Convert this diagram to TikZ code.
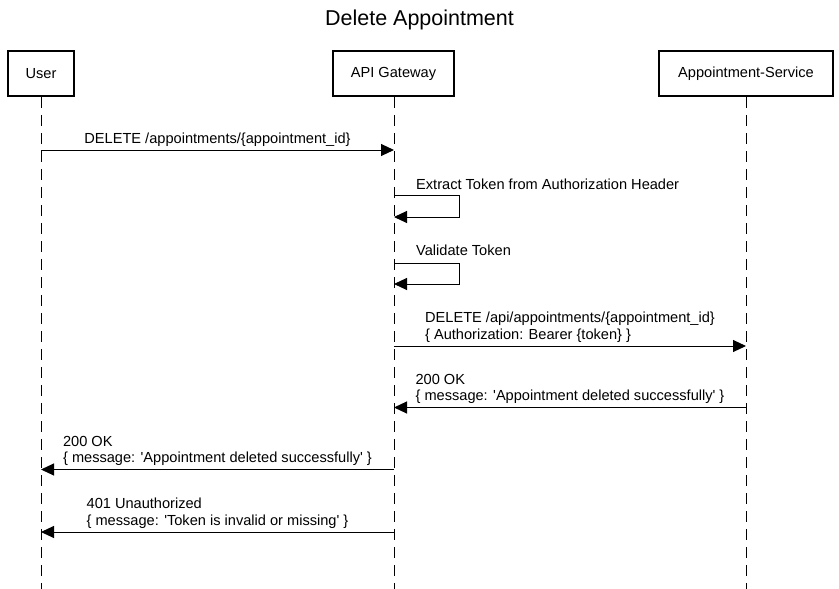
\documentclass[tikz,border=0pt]{standalone}
\usepackage{fontspec}
\setmainfont{Liberation Sans}
\usetikzlibrary{arrows.meta}
\newcommand{\sq}{\textquotesingle}
\begin{document}
\begin{tikzpicture}[x=1pt,y=-1pt,
  actor/.style={draw,line width=2pt,minimum height=45pt,inner sep=0pt,font=\fontsize{14.6}{16}\selectfont},
  life/.style={line width=1pt,dash pattern=on 11pt off 7pt},
  msg/.style={line width=1pt,-{Triangle[length=13pt,width=12pt]}},
  lbl/.style={font=\fontsize{14.6}{16.5}\selectfont,align=left,inner sep=0pt,anchor=south},
  slbl/.style={font=\fontsize{14.6}{16.5}\selectfont,inner sep=0pt,anchor=base west}]
\useasboundingbox (0,0) rectangle (839,589);

\node[font=\fontsize{21.5}{24}\selectfont,inner sep=0pt,anchor=base] (title) at (419.5,25.7) {Delete Appointment};

\node[actor,minimum width=66pt] (user) at (41,73.5) {User};
\node[actor,minimum width=121pt] (gw) at (393.5,73.5) {API Gateway};
\node[actor,minimum width=174pt] (svc) at (746,73.5) {Appointment-Service};

\coordinate (userEnd) at (41,589);
\coordinate (gwEnd) at (394,589);
\coordinate (svcEnd) at (746,589);
\draw[life] (user.south) -- (userEnd);
\draw[life] (gw.south -| gwEnd) -- (gwEnd);
\draw[life] (svc.south) -- (svcEnd);

% message 1
\coordinate (u1) at (41,150);
\coordinate (g1) at (394,150);
\draw[msg] (u1) -- (g1) node[lbl,midway,yshift=3pt] (m1) {DELETE /appointments/\{appointment\_id\}};

% self message 2
\coordinate (g2a) at (394,195);
\coordinate (g2b) at (394,217);
\draw[msg] (g2a) -- ++(65,0) |- (g2b);
\node[slbl] (m2) at (416,189) {Extract Token from Authorization Header};

% self message 3
\coordinate (g3a) at (394,263);
\coordinate (g3b) at (394,284);
\draw[msg] (g3a) -- ++(65,0) |- (g3b);
\node[slbl] (m3) at (416,255) {Validate Token};

% message 4
\coordinate (g4) at (394,346);
\coordinate (s4) at (746,346);
\draw[msg] (g4) -- (s4) node[lbl,midway,yshift=3pt] (m4) {DELETE /api/appointments/\{appointment\_id\}\\\{ Authorization: Bearer \{token\} \}};

% message 5
\coordinate (s5) at (746,407.5);
\coordinate (g5) at (394,407.5);
\draw[msg] (s5) -- (g5) node[lbl,midway,yshift=3pt] (m5) {200 OK\\\{ message: \sq Appointment deleted successfully\sq{} \}};

% message 6
\coordinate (g6) at (394,469.5);
\coordinate (u6) at (41,469.5);
\draw[msg] (g6) -- (u6) node[lbl,midway,yshift=3pt] (m6) {200 OK\\\{ message: \sq Appointment deleted successfully\sq{} \}};

% message 7
\coordinate (g7) at (394,532);
\coordinate (u7) at (41,532);
\draw[msg] (g7) -- (u7) node[lbl,midway,yshift=3pt] (m7) {401 Unauthorized\\\{ message: \sq Token is invalid or missing\sq{} \}};
\end{tikzpicture}
\end{document}
